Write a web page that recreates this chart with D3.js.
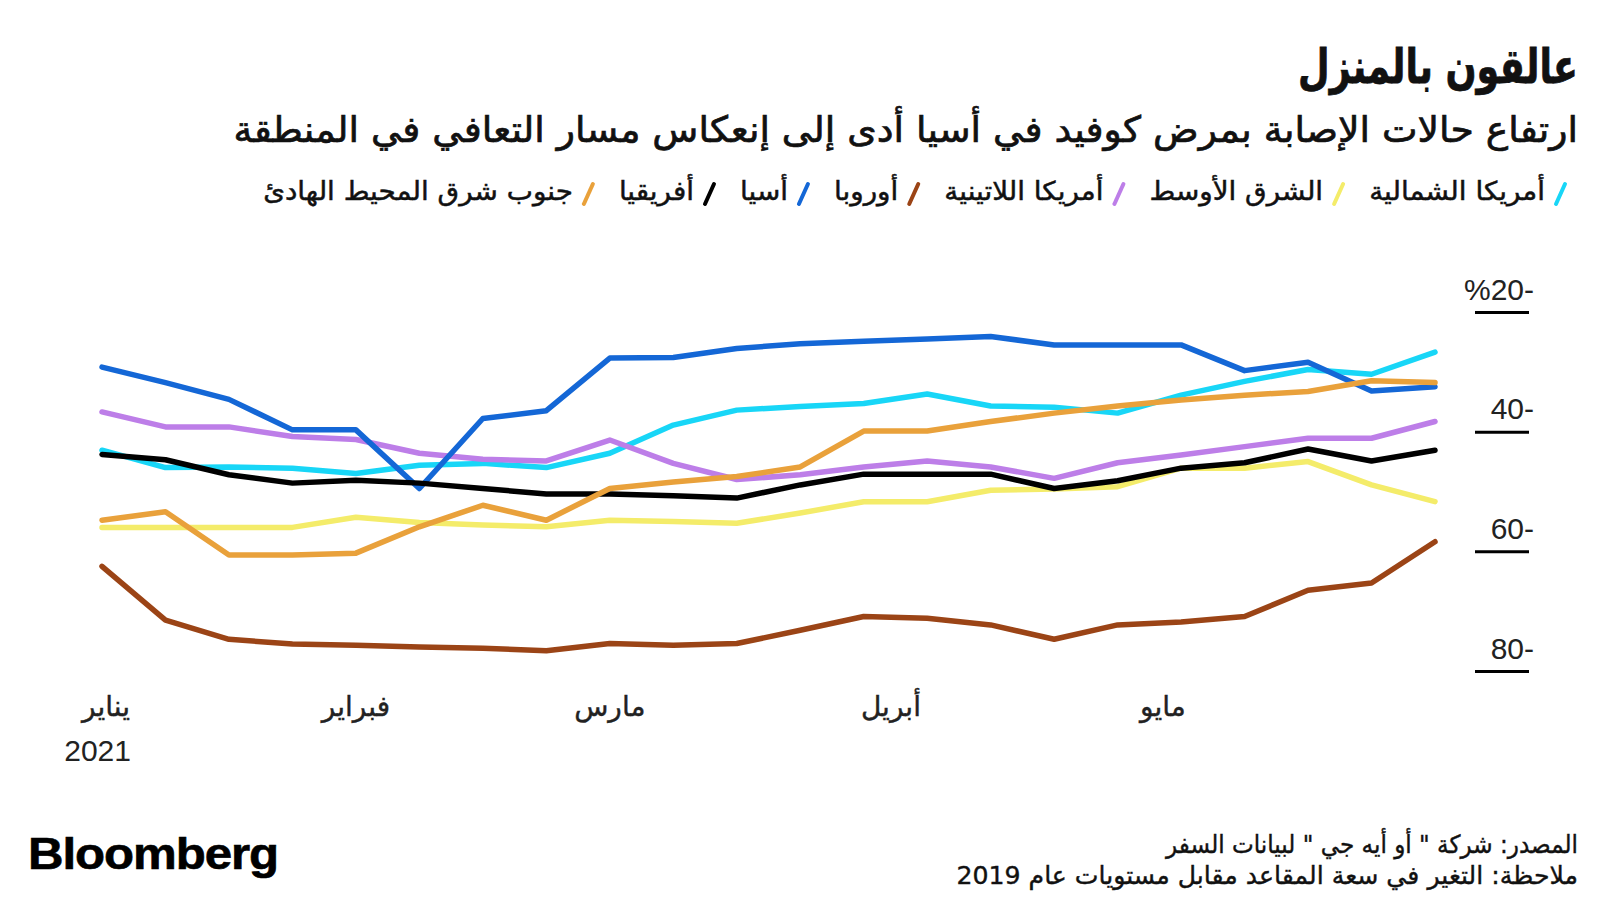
<!DOCTYPE html>
<html>
<head>
<meta charset="utf-8">
<script src="https://cdn.jsdelivr.net/npm/d3@7/dist/d3.min.js"></script>
<style>
  body { margin: 0; background: #fff; }
</style>
</head>
<body>
<script>
// series names in legend order
var regions = ['أمريكا الشمالية', 'الشرق الأوسط', 'أمريكا اللاتينية', 'أوروبا', 'أسيا', 'أفريقيا', 'جنوب شرق المحيط الهادئ'];
var colors = ['#18d6f7', '#f4ec6a', '#bd7ee8', '#9b4416', '#1467d6', '#000000', '#e9a13b'];

// weekly dates
var weeks = ['2021-01-04', '2021-01-11', '2021-01-18', '2021-01-25', '2021-02-01', '2021-02-08',
  '2021-02-15', '2021-02-22', '2021-03-01', '2021-03-08', '2021-03-15', '2021-03-22',
  '2021-03-29', '2021-04-05', '2021-04-12', '2021-04-19', '2021-04-26', '2021-05-03',
  '2021-05-10', '2021-05-17', '2021-05-24', '2021-05-31'];

// change in seat capacity vs 2019, %
var northAmerica = [-43.1, -46.0, -45.9, -46.1, -47.0, -45.6, -45.3, -46.0, -43.6, -38.9, -36.4,
  -35.8, -35.3, -33.7, -35.7, -35.9, -36.9, -33.9, -31.6, -29.6, -30.4, -26.7];
var middleEast = [-56.0, -56.0, -56.0, -56.0, -54.3, -55.2, -55.6, -55.9, -54.8, -55.0, -55.3,
  -53.6, -51.7, -51.7, -49.8, -49.6, -49.2, -46.1, -46.1, -45.0, -48.9, -51.7];
var latinAmerica = [-36.7, -39.2, -39.2, -40.8, -41.3, -43.6, -44.6, -44.9, -41.4, -45.3, -48.0,
  -47.2, -45.9, -44.9, -45.9, -47.8, -45.2, -43.9, -42.5, -41.1, -41.1, -38.3];
var europe = [-62.5, -71.5, -74.7, -75.5, -75.7, -76.0, -76.2, -76.6, -75.4, -75.7, -75.4,
  -73.2, -70.9, -71.2, -72.3, -74.7, -72.3, -71.8, -70.9, -66.5, -65.3, -58.4];
var asia = [-29.2, -31.8, -34.6, -39.7, -39.7, -49.5, -37.8, -36.5, -27.7, -27.6, -26.1,
  -25.3, -24.9, -24.5, -24.1, -25.5, -25.5, -25.5, -29.8, -28.4, -33.2, -32.5];
var africa = [-43.8, -44.7, -47.2, -48.6, -48.1, -48.6, -49.5, -50.4, -50.4, -50.7, -51.1,
  -48.9, -47.1, -47.1, -47.1, -49.5, -48.2, -46.1, -45.2, -42.9, -44.9, -43.1];
var sePacific = [-54.8, -53.4, -60.6, -60.6, -60.3, -55.9, -52.3, -54.8, -49.5, -48.4, -47.5,
  -45.9, -39.9, -39.9, -38.3, -36.9, -35.7, -34.7, -33.9, -33.3, -31.5, -31.8];

var seriesValues = [northAmerica, middleEast, latinAmerica, europe, asia, africa, sePacific];

var yTicks = [-20, -40, -60, -80];
var monthTicks = ['2021-02-01', '2021-03-01', '2021-04-01', '2021-05-01'];
var monthLabels = ['فبراير', 'مارس', 'أبريل', 'مايو'];

var parse = d3.timeParse('%Y-%m-%d');
var dates = weeks.map(parse);

var arFont = '"DejaVu Sans", sans-serif';
var latFont = '"Liberation Sans", Arial, sans-serif';

var svg = d3.select('body').append('svg')
    .attr('width', 1600)
    .attr('height', 900)
    .style('background', '#fff');

// right aligned arabic text, squeezed to width w
function arText(x, y, str, size, weight, w, sw) {
    var t = svg.append('text')
        .attr('transform', 'translate(' + x + ',' + y + ')')
        .attr('direction', 'rtl')
        .attr('text-anchor', 'start')
        .style('font-family', arFont)
        .style('font-size', size + 'px')
        .style('font-weight', weight)
        .attr('fill', '#111')
        .attr('stroke', '#111')
        .attr('stroke-width', sw || 0)
        .text(str);
    if (w) {
        var len = t.node().getComputedTextLength();
        t.attr('transform', 'translate(' + x + ',' + y + ') scale(' + (w / len) + ',1)');
    }
    return t;
}

// titles
arText(1578, 83, 'عالقون بالمنزل', 48, 'bold', 280, 0.8);
arText(1578, 142, 'ارتفاع حالات الإصابة بمرض كوفيد في أسيا أدى إلى إنعكاس مسار التعافي في المنطقة', 36, 'normal', 1345, 0.7);

// legend
var legend = svg.append('g');
var items = legend.selectAll('g').data(regions).enter().append('g');
items.append('line')
    .attr('x1', -11).attr('y1', 204)
    .attr('x2', -2).attr('y2', 184)
    .attr('stroke', function(d, i) { return colors[i]; })
    .attr('stroke-width', 4)
    .attr('stroke-linecap', 'round');
var labels = items.append('text')
    .attr('direction', 'rtl')
    .attr('text-anchor', 'start')
    .style('font-family', arFont)
    .style('font-size', '26px')
    .attr('fill', '#111')
    .attr('stroke', '#111')
    .attr('stroke-width', 0.5)
    .text(function(d) { return d; });
var widths = [];
labels.each(function() { widths.push(this.getComputedTextLength()); });
var k = (1304 - 7 * 22 - 6 * 24) / d3.sum(widths);
var lx = 1567;
items.each(function(d, i) {
    d3.select(this).attr('transform', 'translate(' + lx + ',0)');
    d3.select(this).select('text')
        .attr('transform', 'translate(-22,200) scale(' + k + ',1)');
    lx = lx - 22 - widths[i] * k - 24;
});

// scales
var x = d3.scaleTime()
    .domain(d3.extent(dates))
    .range([102, 1435]);

var y = d3.scaleLinear()
    .domain([-20, -80])
    .range([312, 671]);

// y axis: label sitting on a short underline
var yAxis = svg.append('g')
    .attr('transform', 'translate(1475,0)')
    .call(d3.axisRight(y)
        .tickValues(yTicks)
        .tickSize(54)
        .tickFormat(function(d) { return (d == -20 ? '%' : '') + Math.abs(d) + '-'; }));
yAxis.select('.domain').remove();
yAxis.selectAll('.tick line')
    .attr('stroke', '#000')
    .attr('stroke-width', 3);
yAxis.selectAll('.tick text')
    .attr('x', 59)
    .attr('dy', 0)
    .attr('y', -13)
    .attr('text-anchor', 'end')
    .attr('fill', '#222')
    .style('font-family', latFont)
    .style('font-size', '30px');

// x labels
var xg = svg.append('g');
xg.selectAll('text.month')
    .data(monthTicks)
    .enter().append('text')
    .attr('class', 'month')
    .attr('x', function(d) { return x(parse(d)); })
    .attr('y', 716)
    .attr('text-anchor', 'middle')
    .style('font-family', arFont)
    .style('font-size', '28px')
    .attr('fill', '#222')
    .attr('stroke', '#222')
    .attr('stroke-width', 0.4)
    .text(function(d, i) { return monthLabels[i]; });

xg.append('text')
    .attr('x', x(dates[0]) + 28)
    .attr('y', 716)
    .attr('text-anchor', 'end')
    .style('font-family', arFont)
    .style('font-size', '28px')
    .attr('fill', '#222')
    .attr('stroke', '#222')
    .attr('stroke-width', 0.4)
    .text('يناير');

xg.append('text')
    .attr('x', x(dates[0]) + 29)
    .attr('y', 761)
    .attr('text-anchor', 'end')
    .style('font-family', latFont)
    .style('font-size', '30px')
    .attr('fill', '#222')
    .text('2021');

// lines
var line = d3.line()
    .x(function(d, i) { return x(dates[i]); })
    .y(function(d) { return y(d); });

svg.append('g').selectAll('path')
    .data(seriesValues)
    .enter().append('path')
    .attr('d', line)
    .attr('fill', 'none')
    .attr('stroke', function(d, i) { return colors[i]; })
    .attr('stroke-width', 5.5)
    .attr('stroke-linejoin', 'round')
    .attr('stroke-linecap', 'round');

// footer
arText(1578, 853, 'المصدر: شركة " أو أيه جي " لبيانات السفر', 25, 'normal', 412, 0.4);
arText(1578, 884, 'ملاحظة: التغير في سعة المقاعد مقابل مستويات عام 2019', 25, 'normal', 622, 0.4);

var logo = svg.append('text')
    .attr('x', 28)
    .attr('y', 869)
    .style('font-family', latFont)
    .style('font-size', '45px')
    .style('font-weight', 'bold')
    .style('letter-spacing', '-1px')
    .attr('fill', '#000')
    .attr('stroke', '#000')
    .attr('stroke-width', 0.6)
    .text('Bloomberg');
var ll = logo.node().getComputedTextLength();
logo.attr('transform', 'translate(28,0) scale(' + (250 / ll) + ',1) translate(-28,0)');
</script>
</body>
</html>
